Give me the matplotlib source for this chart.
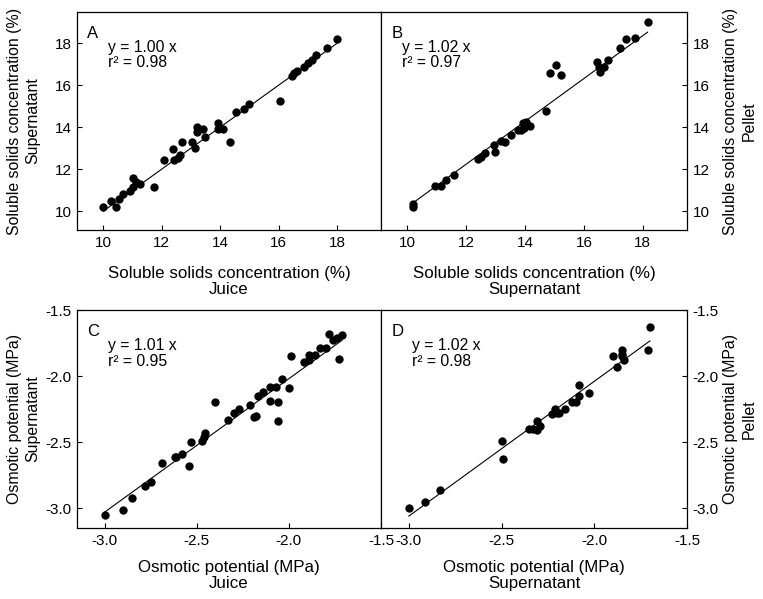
import numpy as np
import matplotlib
matplotlib.use("Agg")
import matplotlib.pyplot as plt

plt.rcParams["font.family"] = ["Liberation Sans", "DejaVu Sans"]

# Panel A: soluble solids, juice (x) vs supernatant (y)
a_x = [10.0, 10.28, 10.45, 10.55, 10.66, 10.9, 11.03, 11.03, 11.12, 11.24,
       11.72, 12.08, 12.37, 12.42, 12.54, 12.62, 12.68, 13.04, 13.13, 13.19,
       13.19, 13.4, 13.47, 13.92, 13.94, 14.08, 14.34, 14.54, 14.83, 14.99,
       16.04, 16.44, 16.53, 16.61, 16.87, 17.0, 17.13, 17.28, 17.65, 17.99]
a_y = [10.2, 10.48, 10.2, 10.6, 10.8, 10.95, 11.6, 11.15, 11.4, 11.3,
       11.15, 12.43, 12.96, 12.43, 12.54, 12.67, 13.3, 13.28, 12.99, 14.02,
       13.75, 13.9, 13.55, 14.18, 13.9, 13.9, 13.28, 14.74, 14.86, 15.09,
       15.25, 16.45, 16.57, 16.68, 16.88, 17.04, 17.2, 17.44, 17.76, 18.19]

# Panel B: soluble solids, supernatant (x) vs pellet (y)
b_x = [10.2, 10.2, 10.93, 11.14, 11.31, 11.59, 12.41, 12.5, 12.64, 12.93,
       12.98, 13.18, 13.3, 13.52, 13.75, 13.86, 13.92, 13.95, 14.03, 14.17,
       14.72, 14.85, 15.06, 15.23, 16.45, 16.5, 16.56, 16.68, 16.82, 17.22,
       17.44, 17.73, 18.16]
b_y = [10.32, 10.2, 11.21, 11.21, 11.48, 11.72, 12.48, 12.59, 12.75, 13.15,
       12.83, 13.34, 13.28, 13.63, 13.86, 13.86, 14.18, 13.94, 14.23, 14.07,
       14.77, 16.57, 16.96, 16.49, 17.09, 16.88, 16.64, 16.88, 17.2, 17.76,
       18.19, 18.24, 19.03]

# Panel C: osmotic potential, juice (x) vs supernatant (y)
c_x = [-3.0, -2.9, -2.85, -2.78, -2.75, -2.69, -2.62, -2.61, -2.58, -2.54,
       -2.53, -2.47, -2.46, -2.455, -2.4, -2.33, -2.3, -2.27, -2.21, -2.19,
       -2.18, -2.17, -2.14, -2.1, -2.1, -2.07, -2.06, -2.06, -2.04, -2.0,
       -1.99, -1.92, -1.89, -1.89, -1.86, -1.83, -1.8, -1.78, -1.76, -1.74,
       -1.73, -1.71]
c_y = [-3.05, -3.01, -2.92, -2.83, -2.8, -2.66, -2.61, -2.61, -2.59, -2.68,
       -2.5, -2.49, -2.46, -2.43, -2.2, -2.33, -2.28, -2.25, -2.22, -2.31,
       -2.3, -2.15, -2.12, -2.08, -2.19, -2.08, -2.34, -2.2, -2.02, -2.09,
       -1.85, -1.89, -1.84, -1.88, -1.84, -1.79, -1.79, -1.68, -1.73, -1.71,
       -1.87, -1.69]

# Panel D: osmotic potential, supernatant (x) vs pellet (y)
d_x = [-3.0, -2.914, -2.83, -2.5, -2.49, -2.35, -2.33, -2.31, -2.31, -2.29,
       -2.23, -2.21, -2.2, -2.19, -2.16, -2.12, -2.1, -2.08, -2.08, -2.03,
       -1.9, -1.88, -1.85, -1.85, -1.85, -1.84, -1.71, -1.7]
d_y = [-3.0, -2.95, -2.86, -2.49, -2.63, -2.4, -2.4, -2.34, -2.41, -2.38,
       -2.29, -2.25, -2.28, -2.28, -2.25, -2.2, -2.2, -2.15, -2.07, -2.13,
       -1.85, -1.93, -1.8, -1.83, -1.85, -1.88, -1.8, -1.63]

letters = ["A", "B", "C", "D"]
slopes = [1.00, 1.02, 1.01, 1.02]
r2 = [0.98, 0.97, 0.95, 0.98]

ssc_ticks = [10, 12, 14, 16, 18]
op_ticks = [-3.0, -2.5, -2.0, -1.5]

W, H = 763, 599
fig = plt.figure(figsize=(W / 100, H / 100), dpi=100)


def px_axes(x0, y0, x1, y1):
    return fig.add_axes([x0 / W, 1 - y1 / H, (x1 - x0) / W, (y1 - y0) / H])


axA = px_axes(77, 11.7, 381, 230)
axB = px_axes(381, 11.7, 687, 230)
axC = px_axes(77, 310, 381, 528)
axD = px_axes(381, 310, 687, 528)

panels = [(axA, a_x, a_y), (axB, b_x, b_y), (axC, c_x, c_y), (axD, d_x, d_y)]
eq_x = [0.103, 0.068, 0.103, 0.10]

for i, (ax, xs, ys) in enumerate(panels):
    xs = np.array(xs)
    ax.plot(xs, ys, "o", color="black", markersize=6.0, markeredgewidth=0)
    xl = np.array([xs.min(), xs.max()])
    ax.plot(xl, slopes[i] * xl, color="black", linewidth=0.8)

    for sp in ax.spines.values():
        sp.set_linewidth(0.9)

    right = i in (1, 3)
    ax.tick_params(direction="in", length=3.5, width=0.8, labelsize=11,
                   left=not right, labelleft=not right,
                   right=right, labelright=right, top=False, pad=4)

    if i < 2:
        ax.set_xlim(9.1, 19.5)
        ax.set_ylim(9.1, 19.5)
        ax.set_xticks(ssc_ticks)
        ax.set_yticks(ssc_ticks)
    else:
        ax.set_xlim(-3.15, -1.5)
        ax.set_ylim(-3.15, -1.5)
        ax.set_xticks(op_ticks)
        ax.set_yticks(op_ticks)
        ax.set_xticklabels([f"{t:.1f}" for t in op_ticks])
        ax.set_yticklabels([f"{t:.1f}" for t in op_ticks])

    lx = 0.032 if not right else 0.035
    ax.text(lx, 0.935, letters[i], transform=ax.transAxes, fontsize=12,
            ha="left", va="top")
    ax.text(eq_x[i], 0.872, f"y = {slopes[i]:.2f} x\nr\u00b2 = {r2[i]:.2f}",
            transform=ax.transAxes, fontsize=11.3, ha="left", va="top",
            linespacing=1.05)

# axis titles
fs = 12.2
for cx, lab in [(229, "Soluble solids concentration (%)\nJuice"),
                (534, "Soluble solids concentration (%)\nSupernatant")]:
    fig.text(cx / W, 1 - 281.5 / H, lab, ha="center", va="center",
             fontsize=fs, linespacing=1.12)
for cx, lab in [(229, "Osmotic potential (MPa)\nJuice"),
                (534, "Osmotic potential (MPa)\nSupernatant")]:
    fig.text(cx / W, 1 - 575.5 / H, lab, ha="center", va="center",
             fontsize=fs, linespacing=1.12)

fs_v = 11.4
for cx, cy, lab in [(23.5, 121, "Soluble solids concentration (%)\nSupernatant"),
                    (740, 121, "Soluble solids concentration (%)\nPellet"),
                    (23.5, 419, "Osmotic potential (MPa)\nSupernatant"),
                    (740, 419, "Osmotic potential (MPa)\nPellet")]:
    fig.text(cx / W, 1 - cy / H, lab, ha="center", va="center", rotation=90,
             fontsize=fs_v, linespacing=1.25)

fig.savefig("out.png", dpi=100)
